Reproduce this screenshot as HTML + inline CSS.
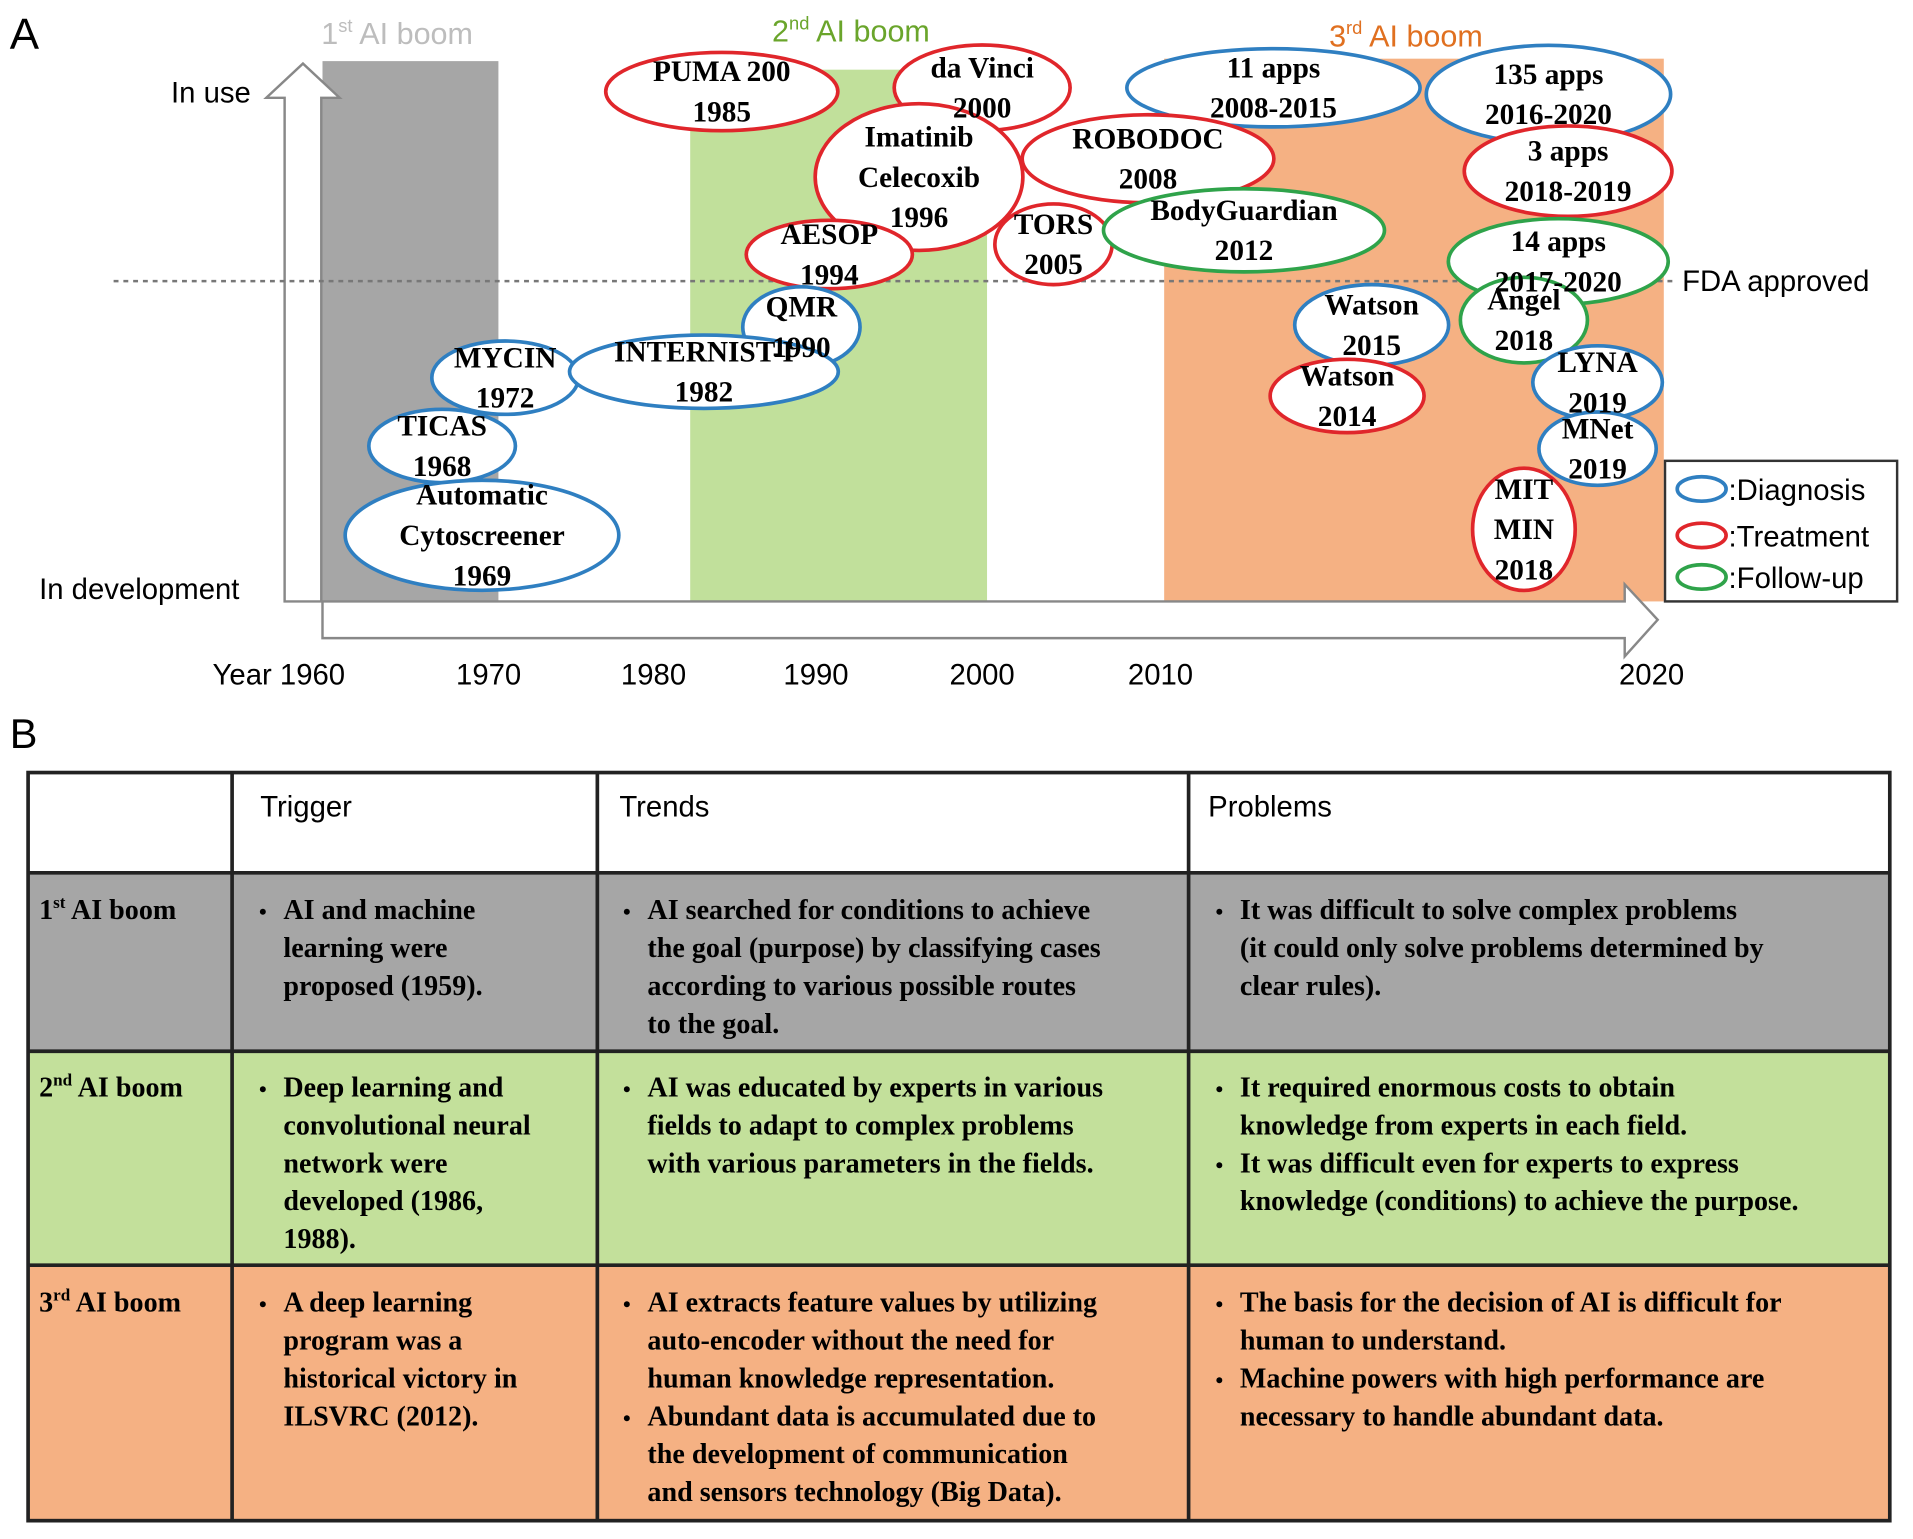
<!DOCTYPE html>
<html><head><meta charset="utf-8"><style>
html,body{margin:0;padding:0;background:#fff;}
svg{display:block;}
.sans{font-family:"Liberation Sans",sans-serif;}
.serif{font-family:"Liberation Serif",serif;font-weight:bold;}
</style></head><body>
<svg id="fig" width="1913" height="1539" viewBox="0 0 1566 1259" preserveAspectRatio="none" xmlns="http://www.w3.org/2000/svg">
<g id="panelA">
 <text x="8" y="40" class="sans" font-size="36">A</text>
 <rect x="264" y="50" width="144" height="442" fill="#a6a6a6"/>
 <rect x="565" y="57" width="243" height="435" fill="#c1e09b"/>
 <rect x="953" y="48" width="409" height="444" fill="#f5b183"/>
 <text x="263" y="36" class="sans" font-size="25" fill="#bdbdbd">1<tspan font-size="15" dy="-10">st</tspan><tspan dy="10"> AI boom</tspan></text>
 <text x="632" y="34" class="sans" font-size="25" fill="#6aa52b">2<tspan font-size="15" dy="-10">nd</tspan><tspan dy="10"> AI boom</tspan></text>
 <text x="1088" y="38" class="sans" font-size="25" fill="#e07020">3<tspan font-size="15" dy="-10">rd</tspan><tspan dy="10"> AI boom</tspan></text>
 <polygon points="233,492 233,80 218,80 248,52 278,80 263,80 263,492" fill="#fff" stroke="#888" stroke-width="2"/>
 <polygon points="264,492 1330,492 1330,478 1357,507 1330,537 1330,522 264,522" fill="#fff" stroke="#888" stroke-width="2"/>
 <line x1="93" y1="230" x2="1372" y2="230" stroke="#777" stroke-width="2" stroke-dasharray="4,4"/>
 <text x="1377" y="238" class="sans" font-size="24">FDA approved</text>
 <text x="140" y="84" class="sans" font-size="24">In use</text>
 <text x="32" y="490" class="sans" font-size="24">In development</text>
 <g id="ticks"></g>
 <g id="bubbles"></g>
 <g id="bubbleText"></g>
 <rect x="1363" y="377" width="190" height="115" fill="#fff" stroke="#333" stroke-width="2"/>
 <g id="legend"></g>
</g>
<g id="panelB">
 <text x="8" y="612" class="sans" font-size="34">B</text>
 <rect x="23" y="632" width="1524" height="82" fill="#fff"/>
 <rect x="23" y="714" width="1524" height="146" fill="#a6a6a6"/>
 <rect x="23" y="860" width="1524" height="175" fill="#c3e09b"/>
 <rect x="23" y="1035" width="1524" height="209" fill="#f5b183"/>
 <g stroke="#222" stroke-width="3" fill="none">
  <rect x="23" y="632" width="1524" height="612"/>
  <line x1="190" y1="632" x2="190" y2="1244"/><line x1="489" y1="632" x2="489" y2="1244"/><line x1="973" y1="632" x2="973" y2="1244"/>
  <line x1="23" y1="714" x2="1547" y2="714"/><line x1="23" y1="860" x2="1547" y2="860"/><line x1="23" y1="1035" x2="1547" y2="1035"/>
 </g>
 <text x="213" y="668" class="sans" font-size="24">Trigger</text>
 <text x="507" y="668" class="sans" font-size="24">Trends</text>
 <text x="989" y="668" class="sans" font-size="24">Problems</text>
 <g id="tbody" class="serif" font-size="23"></g>
</g>
</svg>
<script>
const tickYears=[1960,1970,1980,1990,2000,2010,2020];
const tickLabels=["Year 1960","1970","1980","1990","2000","2010","2020"];
const tickPx=[264,400,535,668,804,950,1352];
const bubbleLabels=[["PUMA 200","1985"],["da Vinci","2000"],["11 apps","2008-2015"],["135 apps","2016-2020"],["Imatinib","Celecoxib","1996"],["ROBODOC","2008"],["3 apps","2018-2019"],["AESOP","1994"],["TORS","2005"],["BodyGuardian","2012"],["14 apps","2017-2020"],["QMR","1990"],["Watson","2015"],["Angel","2018"],["MYCIN","1972"],["INTERNIST-I","1982"],["Watson","2014"],["LYNA","2019"],["TICAS","1968"],["MNet","2019"],["Automatic","Cytoscreener","1969"],["MIT","MIN","2018"]];
const bubbleYears=[1984.2,2000,2012.3,2017.9,1996.2,2009.3,2018.3,1990.8,2004,2011.7,2018.1,1989.1,2014.3,2017.4,1971,1983.1,2013.8,2018.9,1967.2,2018.9,1969.6,2017.4];
const bubbleStage=[94.8,95.5,95.5,94.3,78.9,82.3,80,64.5,66.4,69,63.2,51,51.4,52.3,41.6,42.7,38.2,40.7,28.9,28.4,12.3,13.4];
const bubbleType=["T","T","D","D","T","T","T","T","T","F","F","D","D","F","D","D","T","D","D","D","D","T"];
const bubbleRx=[95,72,120,100,85,103,85,68,48,115,90,48,63,52,60,110,63,53,60,48,112,42];
const bubbleRy=[32,35,32,40,60,36,37,28,33,34,35,33,33,35,30,30,30,30,30,30,45,50];
const colors={D:"#2f7fc1",T:"#e0262b",F:"#2fa34a"};
const NS="http://www.w3.org/2000/svg";
function xScale(y){for(let i=0;i<tickYears.length-1;i++){if(y<=tickYears[i+1]){const t=(y-tickYears[i])/(tickYears[i+1]-tickYears[i]);return tickPx[i]+t*(tickPx[i+1]-tickPx[i]);}}return tickPx[tickPx.length-1];}
function yScale(s){return 492-s*4.4;}
function mk(tag,attrs,parent){const e=document.createElementNS(NS,tag);for(const k in attrs)e.setAttribute(k,attrs[k]);parent.appendChild(e);return e;}
const tg=document.getElementById('ticks');
tickYears.forEach((y,i)=>{const t=mk('text',{x:xScale(y),y:560,'text-anchor':i==0?'start':'middle','font-size':24,class:'sans'},tg);
if(i==0)t.setAttribute('x',174);
t.textContent=tickLabels[i];

});
const bg=document.getElementById('bubbles');
const btg=document.getElementById('bubbleText');
bubbleLabels.forEach((lines,i)=>{const cx=xScale(bubbleYears[i]),cy=yScale(bubbleStage[i]);
const nm=lines[0].toLowerCase().replace(/[^a-z0-9]+/g,'-')+'-'+lines[lines.length-1];
const e=mk('ellipse',{cx:cx,cy:cy,rx:bubbleRx[i],ry:bubbleRy[i],fill:'#fff',stroke:colors[bubbleType[i]],'stroke-width':3},bg);


const g=mk('g',{},btg);


const n=lines.length,sp=33;
lines.forEach((l,j)=>{const t=mk('text',{x:cx,y:cy+(j-(n-1)/2)*sp+8,'text-anchor':'middle','font-size':24,class:'serif'},g);t.textContent=l;});});
const lg=document.getElementById('legend');
[["D",":Diagnosis",400],["T",":Treatment",438],["F",":Follow-up",472]].forEach(r=>{
const g=mk('g',{},lg);


mk('ellipse',{cx:1393,cy:r[2],rx:20,ry:10,fill:'#fff',stroke:colors[r[0]],'stroke-width':3},g);
const t=mk('text',{x:1415,y:r[2]+9,'font-size':24,class:'sans'},g);t.textContent=r[1];});
const tb=document.getElementById('tbody');
function cellText(x,y0,lines,name){const g=mk('g',{},tb);


lines.forEach((l,j)=>{const y=y0+j*31;if(l[0]=='•'){const b=mk('text',{x:x,y:y,'font-size':18},g);b.textContent='•';const t=mk('text',{x:x+20,y:y},g);t.textContent=l.slice(1);}else{const t=mk('text',{x:x+20,y:y},g);t.textContent=l;}});}
function label(y,n,sup,name){const g=mk('g',{},tb);
const t=mk('text',{x:32,y:y},g);t.innerHTML=n+'<tspan font-size="14" dy="-9">'+sup+'</tspan><tspan dy="9"> AI boom</tspan>';}
label(752,'1','st','row-label-first');label(897,'2','nd','row-label-second');label(1073,'3','rd','row-label-third');
cellText(212,752,["•AI and machine","learning were","proposed (1959)."],'first-trigger');
cellText(510,752,["•AI searched for conditions to achieve","the goal (purpose) by classifying cases","according to various possible routes","to the goal."],'first-trends');
cellText(995,752,["•It was difficult to solve complex problems"," (it could only solve problems determined by","clear rules)."],'first-problems');
cellText(212,897,["•Deep learning and","convolutional neural","network were","developed (1986,","1988)."],'second-trigger');
cellText(510,897,["•AI was educated by experts in various","fields to adapt to complex problems","with various parameters in the fields."],'second-trends');
cellText(995,897,["•It required enormous costs to obtain","knowledge from experts in each field.","•It was difficult even for experts to express","knowledge (conditions) to achieve the purpose."],'second-problems');
cellText(212,1073,["•A deep learning","program was a","historical victory in","ILSVRC (2012)."],'third-trigger');
cellText(510,1073,["•AI extracts feature values by utilizing","auto-encoder without the need for","human knowledge representation.","•Abundant data is accumulated due to","the development of communication","and sensors technology (Big Data)."],'third-trends');
cellText(995,1073,["•The basis for the decision of AI is difficult for","human to understand.","•Machine powers with high performance are","necessary to handle abundant data."],'third-problems');
</script>
</body></html>
